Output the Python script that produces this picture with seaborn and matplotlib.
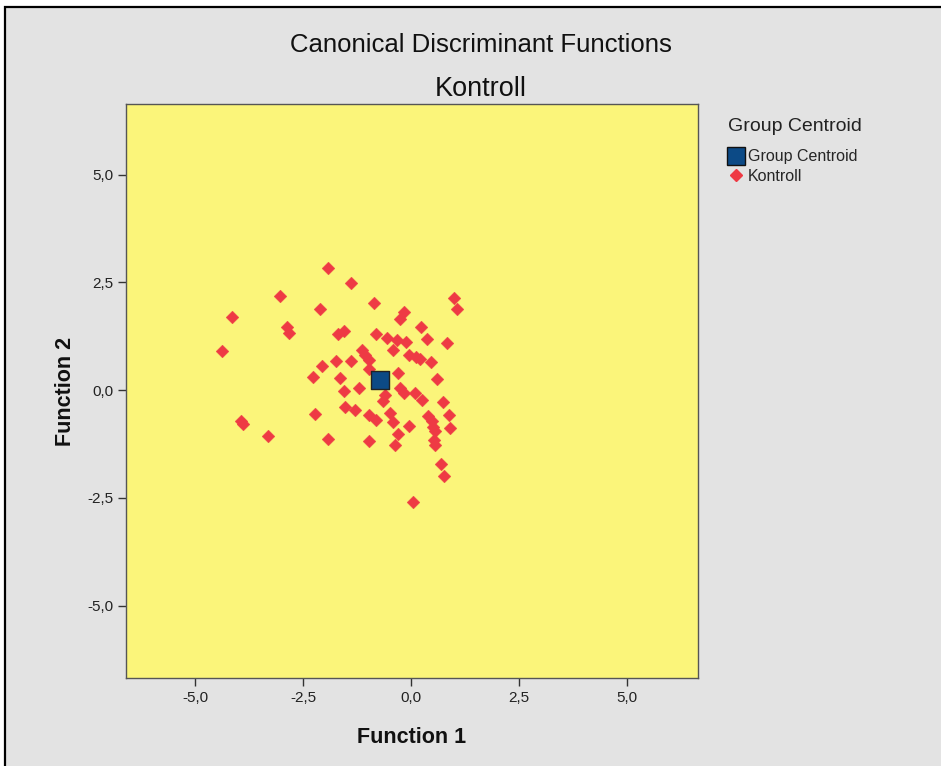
import matplotlib
matplotlib.use("Agg")
import matplotlib.pyplot as plt
from matplotlib.patches import Rectangle
from matplotlib.lines import Line2D
import seaborn as sns
import pandas as pd

sns.set_style("white")
plt.rcParams["font.family"] = ["Liberation Sans", "DejaVu Sans"]

# Discriminant scores for the "Kontroll" group
function_1 = [
    -1.92, -1.39, -3.03, -4.14, -2.11, -2.87, -2.82, -4.38, -0.86, 1.00,
    1.06, -0.16, -0.25, 0.23, 0.37, 0.83, -1.69, -1.55, -0.81, -0.56,
    -0.32, -0.12, -1.13, -1.06, -0.97, -0.42, -0.05, 0.12, 0.21, 0.46,
    -2.06, -1.74, -1.39, -2.27, -1.64, -0.30, 0.60, -1.55, -1.20, -0.60,
    -0.65, -0.25, -0.16, 0.09, 0.25, 0.74, -1.53, -1.30, -2.22, -0.97,
    -0.81, -0.49, -0.42, -0.05, 0.39, 0.49, 0.51, 0.56, 0.88, 0.90,
    -0.30, -0.37, -0.97, -1.92, -3.89, -3.31, 0.53, 0.56, 0.69, 0.76,
    0.05, -0.97, -3.94,
]
function_2 = [
    2.83, 2.48, 2.18, 1.69, 1.88, 1.46, 1.32, 0.90, 2.02, 2.13,
    1.88, 1.81, 1.65, 1.46, 1.18, 1.09, 1.30, 1.37, 1.30, 1.21,
    1.16, 1.11, 0.93, 0.81, 0.70, 0.93, 0.81, 0.77, 0.72, 0.65,
    0.56, 0.67, 0.67, 0.30, 0.28, 0.39, 0.26, -0.02, 0.05, -0.12,
    -0.26, 0.05, -0.07, -0.07, -0.23, -0.28, -0.39, -0.46, -0.56, -0.58,
    -0.70, -0.53, -0.74, -0.84, -0.60, -0.72, -0.86, -0.95, -0.58, -0.88,
    -1.02, -1.28, -1.18, -1.14, -0.79, -1.07, -1.16, -1.28, -1.72, -2.00,
    -2.60, 0.49, -0.72,
]

# Group centroid
centroid_f1 = [-0.71]
centroid_f2 = [0.24]

x_ticks = [-5.0, -2.5, 0.0, 2.5, 5.0]
x_tick_labels = ["-5,0", "-2,5", "0,0", "2,5", "5,0"]
y_ticks = [5.0, 2.5, 0.0, -2.5, -5.0]
y_tick_labels = ["5,0", "2,5", "0,0", "-2,5", "-5,0"]

points = pd.DataFrame({"Function 1": function_1, "Function 2": function_2})
centroid = pd.DataFrame({"Function 1": centroid_f1, "Function 2": centroid_f2})

W, H = 941, 766
fig = plt.figure(figsize=(W / 100, H / 100), dpi=100, facecolor="white")

# Grey panel with black frame, kept behind the axes
fig.patches.append(Rectangle((5 / W, -0.02), 1.05, (H - 7) / H + 0.02,
                             transform=fig.transFigure, facecolor="#e3e3e3",
                             edgecolor="black", linewidth=1.6, zorder=-10))

ax = fig.add_axes([126 / W, (H - 678) / H, 572 / W, 574 / H])
ax.set_facecolor("#fbf57a")

marker_red = "#ee3a44"
navy = "#0c4a86"

sns.scatterplot(data=points, x="Function 1", y="Function 2", ax=ax,
                marker="D", s=42, color=marker_red, edgecolor=marker_red,
                linewidth=0.3, zorder=3)
sns.scatterplot(data=centroid, x="Function 1", y="Function 2", ax=ax,
                marker="s", s=150, color=navy, edgecolor="#222222",
                linewidth=1.0, zorder=4)

ax.set_xlim(-6.60, 6.64)
ax.set_ylim(-6.68, 6.64)
ax.set_xticks(x_ticks)
ax.set_xticklabels(x_tick_labels)
ax.set_yticks(y_ticks)
ax.set_yticklabels(y_tick_labels)
ax.tick_params(axis="both", which="both", direction="out", length=6,
               width=1, color="#333333", labelsize=11, labelcolor="#222222",
               pad=3, bottom=True, left=True)

for side in ["left", "bottom", "top", "right"]:
    ax.spines[side].set_color("#555555")
    ax.spines[side].set_linewidth(1.0)

ax.set_xlabel("Function 1", fontsize=15.5, fontweight="bold", labelpad=16,
              color="#111111")
ax.set_ylabel("Function 2", fontsize=15.5, fontweight="bold", labelpad=8,
              color="#111111")

fig.text(481 / W, 1 - 45 / H, "Canonical Discriminant Functions",
         ha="center", va="center", fontsize=18.5, color="#111111")
fig.text(481 / W, 1 - 89 / H, "Kontroll",
         ha="center", va="center", fontsize=19.5, color="#111111")

handles = [
    Line2D([], [], linestyle="none", marker="s", markersize=13,
           markerfacecolor=navy, markeredgecolor="#111111",
           markeredgewidth=1.0, label="Group Centroid"),
    Line2D([], [], linestyle="none", marker="D", markersize=6.5,
           markerfacecolor=marker_red, markeredgecolor=marker_red,
           label="Kontroll"),
]
leg = fig.legend(handles=handles, loc="upper left",
                 bbox_to_anchor=(722 / W, 1 - 112 / H), frameon=False,
                 title="Group Centroid", title_fontsize=14, fontsize=11.5,
                 handlelength=0.9, handletextpad=0.3, labelspacing=0.3,
                 borderaxespad=0, alignment="left")
leg.get_title().set_color("#222222")
leg._legend_box.sep = 10

fig.savefig("out.png", dpi=100, facecolor=fig.get_facecolor())
